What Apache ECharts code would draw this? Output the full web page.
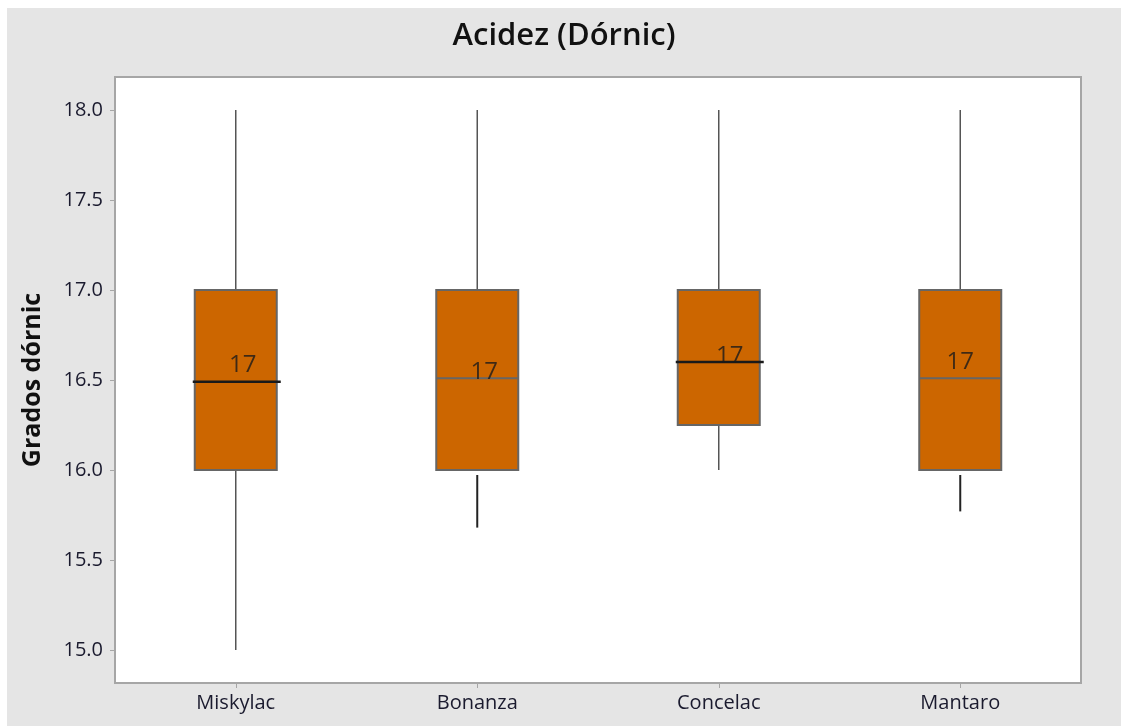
<!DOCTYPE html>
<html>
<head>
<meta charset="utf-8">
<style>
  html, body { margin: 0; padding: 0; background: #ffffff; }
  #chart { position: absolute; left: 7px; top: 8px; width: 1114px; height: 718px; }
</style>
<script src="https://cdn.jsdelivr.net/npm/echarts@6/dist/echarts.min.js"></script>
</head>
<body>
<div id="chart"></div>
<script>
// data
const categories = ["Miskylac", "Bonanza", "Concelac", "Mantaro"];
const minValues = [15.0, 15.68, 16.0, 15.77];
const q1Values = [16.0, 16.0, 16.25, 16.0];
const medianValues = [16.49, 16.51, 16.6, 16.51];
const q3Values = [17.0, 17.0, 17.0, 17.0];
const maxValues = [18.0, 18.0, 18.0, 18.0];
const medianLabels = ["17", "17", "17", "17"];
const yTicks = [15.0, 15.5, 16.0, 16.5, 17.0, 17.5, 18.0];

const boxData = categories.map((c, i) => [i, minValues[i], q1Values[i], medianValues[i], q3Values[i], maxValues[i]]);

// styling per box (the reference draws some medians heavier)
const medianHeavy = [true, false, true, false];
const lowerDark = [false, true, false, true];
const labelOffsets = [[7, -17], [7, -6], [11, -6], [0, -16]];

const chart = echarts.init(document.getElementById("chart"));

chart.setOption({
  backgroundColor: "#e5e5e5",
  animation: false,
  title: {
    text: "Acidez (Dórnic)",
    left: "center",
    top: 8,
    textStyle: { fontFamily: "Open Sans", fontSize: 31, fontWeight: 600, color: "#111" }
  },
  grid: { left: 108, right: 40, top: 69, bottom: 43, show: true, backgroundColor: "#ffffff", borderColor: "#a6a6a6", borderWidth: 2 },
  xAxis: {
    type: "category",
    data: categories,
    boundaryGap: true,
    axisLine: { show: false },
    axisTick: { show: true, alignWithLabel: true, length: 5, lineStyle: { color: "#a6a6a6" } },
    axisLabel: { fontFamily: "Open Sans", fontSize: 20, color: "#1a1a2e", margin: 10 },
    splitLine: { show: false }
  },
  yAxis: {
    type: "value",
    min: 14.8167,
    max: 18.1833,
    name: "Grados dórnic",
    nameLocation: "middle",
    nameGap: 70,
    nameTextStyle: { fontFamily: "Open Sans", fontSize: 25, fontWeight: "bold", color: "#111" },
    axisLine: { show: false },
    axisTick: { show: true, length: 5, customValues: yTicks, lineStyle: { color: "#a6a6a6" } },
    axisLabel: {
      fontFamily: "Open Sans", fontSize: 20, color: "#1a1a2e", margin: 12,
      customValues: yTicks,
      formatter: v => v.toFixed(1)
    },
    splitLine: { show: false }
  },
  series: [
    {
      type: "custom",
      data: boxData,
      encode: { x: 0, y: [1, 2, 3, 4, 5] },
      renderItem: function (params, api) {
        const i = api.value(0);
        const half = 41;
        const pMin = api.coord([i, api.value(1)]);
        const pQ1 = api.coord([i, api.value(2)]);
        const pMed = api.coord([i, api.value(3)]);
        const pQ3 = api.coord([i, api.value(4)]);
        const pMax = api.coord([i, api.value(5)]);
        const x = pMed[0];
        const children = [
          { type: "line", shape: { x1: x, y1: pMax[1], x2: x, y2: pQ3[1] }, style: { stroke: "#555", lineWidth: 1.5 } },
          {
            type: "line",
            shape: { x1: x, y1: lowerDark[i] ? pQ1[1] + 5 : pQ1[1], x2: x, y2: pMin[1] },
            style: { stroke: lowerDark[i] ? "#222" : "#555", lineWidth: lowerDark[i] ? 2 : 1.5 }
          },
          {
            type: "rect",
            shape: { x: x - half, y: pQ3[1], width: half * 2, height: pQ1[1] - pQ3[1] },
            style: { fill: "#cc6600", stroke: "#666", lineWidth: 2 }
          },
          medianHeavy[i]
            ? { type: "line", shape: { x1: x - half - 2, y1: pMed[1], x2: x + half + 4, y2: pMed[1] }, style: { stroke: "#1a1a1a", lineWidth: 2.5 } }
            : { type: "line", shape: { x1: x - half, y1: pMed[1], x2: x + half, y2: pMed[1] }, style: { stroke: "#666", lineWidth: 2 } }
        ];
        return { type: "group", children: children };
      },
      z: 2
    },
    {
      type: "scatter",
      symbolSize: 0,
      data: medianValues.map((v, i) => ({
        value: [i, v],
        label: {
          show: true,
          position: "inside",
          offset: labelOffsets[i],
          formatter: medianLabels[i],
          fontFamily: "Open Sans",
          fontSize: 24,
          color: "#1a1a1a"
        }
      })),
      z: 3
    }
  ]
});
</script>
</body>
</html>
